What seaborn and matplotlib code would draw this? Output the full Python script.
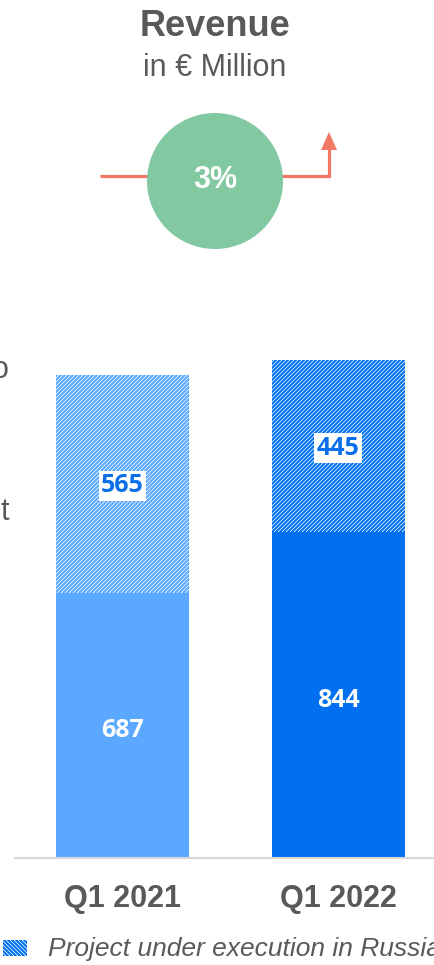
import matplotlib
matplotlib.use("Agg")
import matplotlib.pyplot as plt
import seaborn as sns
import pandas as pd
from matplotlib.patches import Circle, Polygon

# ---- data ----
categories = ["Q1 2021", "Q1 2022"]
base_values = [687, 844]          # solid part
russia_values = [565, 445]        # hatched part (project under execution in Russia)
growth_label = "3%"
title = "Revenue"
subtitle = "in € Million"
legend_label = "Project under execution in Russia"

solid_colors = ["#5AA8FF", "#0070F0"]
hatch_colors = ["#5AA8FF", "#0070F0"]

totals = [b + r for b, r in zip(base_values, russia_values)]
df = pd.DataFrame({"cat": categories, "base": base_values, "total": totals})

DPI = 96
S = 100 / DPI  # keep sizes as designed for 100 dpi

sns.set_theme(style="white")
plt.rcParams["font.family"] = ["Liberation Sans", "DejaVu Sans"]
plt.rcParams["hatch.linewidth"] = 1.5 * S

W, H = 434, 965
fig = plt.figure(figsize=(W / DPI, H / DPI), dpi=DPI)

# ---- bar axes ----
ax_left_px, ax_bottom_px, ax_top_px = 15, 858, 300
ax = fig.add_axes([ax_left_px / W, 1 - ax_bottom_px / H, 1 - ax_left_px / W,
                   (ax_bottom_px - ax_top_px) / H])
px_per_unit = 0.386
spacing = 215.5
c0 = 122.5
bw = 133 / spacing

sns.barplot(data=df, x="cat", y="total", color="white", width=bw, ax=ax,
            linewidth=0, saturation=1)
for p, hc in zip(ax.patches, hatch_colors):
    p.set_facecolor("white")
    p.set_edgecolor(hc)
    p.set_hatch("////////")
    p.set_linewidth(0)
sns.barplot(data=df, x="cat", y="base", hue="cat", palette=solid_colors,
            width=bw, ax=ax, linewidth=0, saturation=1, legend=False, dodge=False)

ax.set_xlim(-(c0 - ax_left_px) / spacing, (W - c0) / spacing)
ax.set_ylim(0, (ax_bottom_px - ax_top_px) / px_per_unit)

num_font = ["Open Sans", "DejaVu Sans"]
for i, (b, r) in enumerate(zip(base_values, russia_values)):
    ax.annotate(f"{b}", (i, b / 2), xytext=(0, -5), textcoords="offset pixels",
                ha="center", va="center", color="white",
                fontsize=18 * S, fontweight="bold", family=num_font)
    ax.annotate(f"{r}", (i, b + r / 2), xytext=(0, -2), textcoords="offset pixels",
                ha="center", va="center", color="#0A6FE8",
                fontsize=18 * S, fontweight="bold", family=num_font,
                bbox=dict(boxstyle="square,pad=0.1", fc="white", ec="none"))

for s in ["top", "right", "left"]:
    ax.spines[s].set_visible(False)
ax.spines["bottom"].set_color("#D9D9D9")
ax.spines["bottom"].set_linewidth(1.5 * S)
ax.set_yticks([])
ax.set_xlabel("")
ax.set_ylabel("")
ax.tick_params(axis="x", length=0, pad=19 * S, labelsize=22 * S,
               labelcolor="#595959")
for lbl in ax.get_xticklabels():
    lbl.set_fontweight("bold")

# ---- overlay (pixel coords) ----
ov = fig.add_axes([0, 0, 1, 1], facecolor="none")
ov.set_xlim(0, W)
ov.set_ylim(H, 0)
ov.axis("off")

gray = "#595959"
ov.text(215, 27, title, ha="center", va="center", fontsize=26 * S,
        fontweight="bold", color=gray)
ov.text(215, 68, subtitle, ha="center", va="center", fontsize=22 * S, color=gray)

red = "#F07864"
ov.plot([100, 329, 329], [176, 176, 148], color=red, lw=2.3 * S,
        solid_capstyle="butt", solid_joinstyle="miter", zorder=2)
ov.add_patch(Polygon([[321, 150], [337, 150], [329, 132]], closed=True,
                     fc=red, ec="none", zorder=2))
ov.add_patch(Circle((215, 181), 68, fc="#82C8A0", ec="none", zorder=3))
ov.text(215, 180, growth_label, ha="center", va="center", fontsize=22 * S,
        fontweight="bold", color="white", zorder=4)

# cropped neighbour text at left edge
ov.text(9, 370, "o", ha="right", va="center", fontsize=22 * S, color=gray)
ov.text(9, 512, "t", ha="right", va="center", fontsize=22 * S, color=gray)

# legend
ov.add_patch(plt.Rectangle((3, 940), 24, 16, fc="white", ec="#0070F0",
                           hatch="\\" * 8, lw=0))
ov.text(48, 949, legend_label, ha="left", va="center", fontsize=19 * S,
        style="italic", color=gray)

fig.savefig("out.png", dpi=DPI)
